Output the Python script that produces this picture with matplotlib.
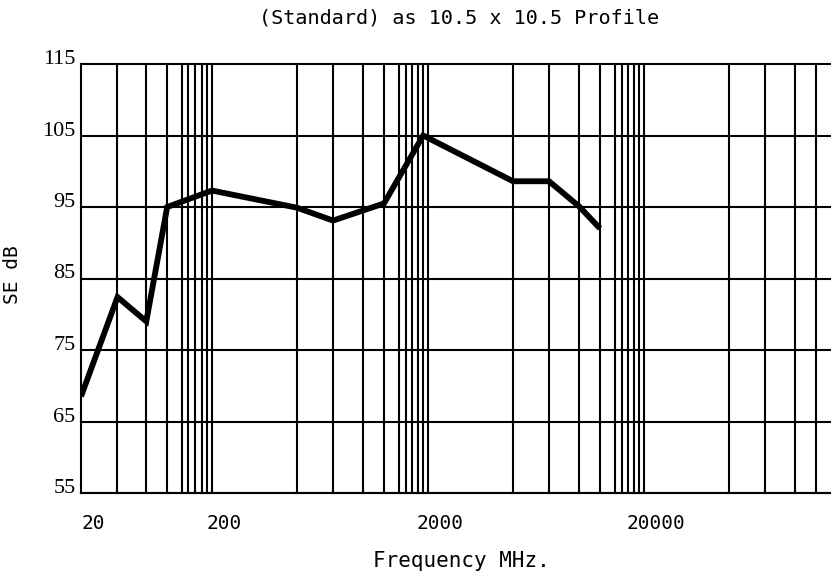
import numpy as np
import matplotlib
matplotlib.use("Agg")
import matplotlib.pyplot as plt
from matplotlib.transforms import ScaledTranslation

# ---- data ----
freq_mhz = [20, 38, 63, 91, 200, 495, 727, 1251, 1900, 4950, 7270, 10000, 12510]
se_db = [68.5, 82.4, 79.0, 95.0, 97.3, 94.9, 93.1, 95.5, 105.0, 98.6, 98.6, 95.1, 92.0]

# vertical grid lines of the chart (frequencies, MHz)
grid_freqs = [37.7, 62.7, 90.7, 118, 131, 148, 168, 183, 200,
              495, 727, 1000, 1251, 1468, 1582, 1687, 1798, 1896, 2000,
              4950, 7270, 10000, 12510, 14680, 15820, 16870, 17980, 18960, 20000,
              49500, 72700, 100000, 125100]
x_ticks = [20, 200, 2000, 20000]
x_ticklabels = ["20", "200", "2000", "20000"]
y_ticks = [55, 65, 75, 85, 95, 105, 115]

# ---- the chart's uneven log-like frequency axis ----
anchor_log = np.log10([2, 20, 200, 2000, 20000, 200000, 2000000])
anchor_pos = np.array([-131, 0, 131, 347, 563, 779, 995], dtype=float)


def fwd(f):
    f = np.asarray(f, dtype=float)
    return np.interp(np.log10(np.clip(f, 1e-9, None)), anchor_log, anchor_pos)


def inv(u):
    u = np.asarray(u, dtype=float)
    return 10 ** np.interp(u, anchor_pos, anchor_log)


W, H = 831, 576
fig = plt.figure(figsize=(W / 100, H / 100), dpi=100)
ax = fig.add_axes([81 / W, 83 / H, 750 / W, 429 / H])
ax.set_xscale("function", functions=(fwd, inv))
ax.set_xlim(20, float(inv(750)))
ax.set_ylim(55, 115)

lw_grid = 1.5
for g in grid_freqs:
    ax.axvline(g, color="black", lw=lw_grid, zorder=1)
for y in y_ticks:
    ax.axhline(y, color="black", lw=lw_grid, zorder=1, clip_on=False)

ax.plot(freq_mhz, se_db, color="black", lw=4.2, solid_joinstyle="miter",
        solid_capstyle="butt", zorder=3)

for s in ["top", "right"]:
    ax.spines[s].set_visible(False)
for s in ["left", "bottom"]:
    ax.spines[s].set_linewidth(lw_grid)
    ax.spines[s].set_color("black")

ax.set_xticks(x_ticks)
ax.set_xticklabels(x_ticklabels, fontfamily="DejaVu Sans Mono", fontsize=14)
ax.xaxis.set_minor_locator(matplotlib.ticker.NullLocator())
ax.tick_params(axis="x", length=0, pad=15)
off = ScaledTranslation(12 / 100, 0, fig.dpi_scale_trans)
for lbl in ax.get_xticklabels():
    lbl.set_transform(lbl.get_transform() + off)

ax.set_yticks(y_ticks)
ax.set_yticklabels([str(v) for v in y_ticks], fontfamily="Liberation Serif", fontsize=16)
ax.tick_params(axis="y", length=0, pad=4)
for lbl in ax.get_yticklabels():
    lbl.set_va("baseline")

fig.text(459 / W, 1 - 18 / H, "(Standard) as 10.5 x 10.5 Profile",
         ha="center", va="center", fontfamily="DejaVu Sans Mono", fontsize=14.5)
fig.text(461 / W, 1 - 561 / H, "Frequency MHz.",
         ha="center", va="center", fontfamily="DejaVu Sans Mono", fontsize=15)
fig.text(12 / W, 1 - 275 / H, "SE dB", rotation=90,
         ha="center", va="center", fontfamily="DejaVu Sans Mono", fontsize=14)

fig.savefig("out.png", dpi=100)
